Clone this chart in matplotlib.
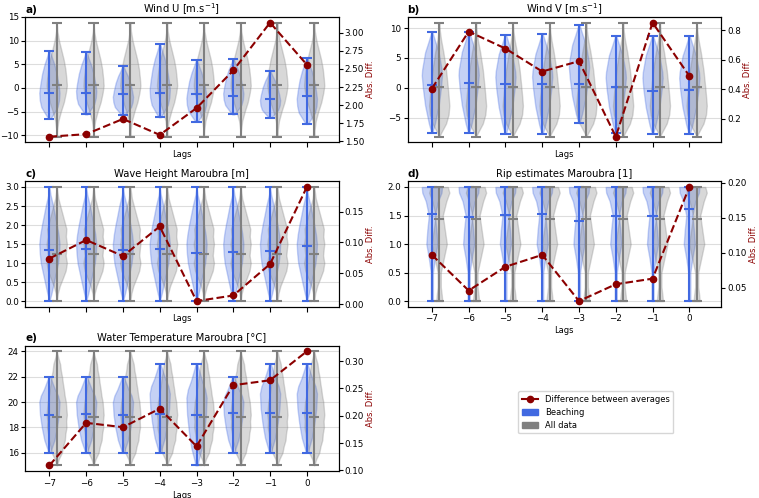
import numpy as np
import matplotlib.pyplot as plt
from matplotlib.lines import Line2D
from matplotlib.patches import Patch

plt.rcParams['font.size'] = 6
plt.rcParams['xtick.labelsize'] = 6.3
plt.rcParams['ytick.labelsize'] = 6.3

lags = [-7, -6, -5, -4, -3, -2, -1, 0]

# a) Wind U
u_beach_min = [-6.5, -5.6, -5.8, -6.2, -7.1, -5.6, -6.3, -7.6]
u_beach_max = [7.9, 7.5, 4.6, 9.3, 5.9, 6.1, 3.5, 6.4]
u_beach_mean = [-1.0, -1.0, -1.2, -1.0, -1.3, -1.8, -2.4, -1.8]
u_all = [-10.3, 13.8, 0.6]  # min, max, mean
u_diff = [1.565, 1.60, 1.81, 1.59, 1.96, 2.48, 3.14, 2.56]
# violin outlines: position inside [min, max] (0..1) and relative width
u_beach_t = [0, .07, .17, .27, .38, .5, .66, .8, .9, 1]
u_beach_d = [.1, .4, .8, .95, 1.0, .9, .72, .48, .25, .05]
u_all_y = [-10.3, -9, -7, -5, -3, -1, 0.5, 2, 4, 6, 8, 10, 12, 13.8]
u_all_d = [0, .03, .15, .4, .7, .9, 1, .95, .85, .68, .45, .22, .06, 0]

# b) Wind V
v_beach_min = [-7.5, -7.5, -7.7, -7.7, -5.9, -7.6, -7.7, -7.7]
v_beach_max = [9.3, 9.4, 8.9, 9.0, 10.5, 8.7, 8.7, 8.6]
v_beach_mean = [0.45, 0.85, 0.7, 0.55, 0.6, 0.15, -0.6, -0.35]
v_all = [-8.2, 10.9, 0.05]
v_diff = [0.405, 0.79, 0.675, 0.52, 0.59, 0.08, 0.85, 0.49]
v_beach_t = [0, .09, .27, .45, .57, .63, .8, .9, 1]
v_beach_d = [.05, .3, .67, .9, 1.0, .96, .67, .35, .05]
v_all_y = [-8.2, -7.5, -6, -4.5, -3, -1.5, 0, 3, 6, 8, 9.5, 10.9]
v_all_d = [0, .2, .67, .92, 1.0, .93, .85, .67, .4, .18, .06, 0]

# c) Wave height
h_beach_min = [0.0, 0.0, 0.0, 0.0, 0.0, 0.0, 0.0, 0.0]
h_beach_max = [3.0, 3.0, 3.0, 3.0, 3.0, 3.0, 3.0, 3.0]
h_beach_mean = [1.33, 1.36, 1.33, 1.38, 1.27, 1.28, 1.32, 1.44]
h_all = [0.0, 3.0, 1.25]
h_diff = [0.074, 0.104, 0.078, 0.126, 0.005, 0.014, 0.065, 0.190]
h_beach_t = [0, .067, .167, .25, .333, .417, .5, .583, .667, .75, .833, .933, 1]
h_beach_d = [0, .2, .45, .65, .85, .95, 1.0, .9, .74, .55, .37, .1, 0]
h_all_y = [0, .2, .4, .6, .8, 1.0, 1.2, 1.4, 1.5, 1.7, 1.9, 2.1, 2.4, 2.7, 3.0]
h_all_d = [0, .1, .3, .6, .88, 1.0, .88, .95, 1.0, .9, .95, .75, .45, .15, 0]

# d) Rip estimates
r_beach_min = [0.0, 0.0, 0.0, 0.0, 0.0, 0.0, 0.0, 0.0]
r_beach_max = [2.0, 2.0, 2.0, 2.0, 2.0, 2.0, 2.0, 2.0]
r_beach_mean = [1.52, 1.48, 1.51, 1.53, 1.41, 1.49, 1.50, 1.61]
r_all = [0.0, 2.0, 1.43]
r_diff = [0.097, 0.046, 0.080, 0.097, 0.031, 0.055, 0.063, 0.194]
r_beach_t = [0, .125, .25, .375, .5, .625, .75, .875, .95, 1]
r_beach_d = [.1, .1, .1, .3, .55, .45, .3, .6, .95, 1.0]
r_all_y = [0, .1, .25, .5, .75, 1.0, 1.25, 1.5, 1.75, 1.9, 2.0]
r_all_d = [.3, .25, .15, .15, .45, .75, .55, .35, .7, 1.0, .85]

# e) Water temperature
t_beach_min = [16, 16, 16, 16, 15, 16, 16, 16]
t_beach_max = [22, 22, 22, 23, 23, 22, 23, 23]
t_beach_mean = [18.95, 19.05, 19.0, 19.05, 19.0, 19.1, 19.1, 19.15]
t_all = [15, 24, 18.85]
t_diff = [0.109, 0.187, 0.179, 0.213, 0.144, 0.256, 0.265, 0.318]
t_beach_t = [0, .05, .167, .333, .5, .667, .75, .833, .92, 1]
t_beach_d = [.1, .2, .5, .75, .93, 1.0, .85, .55, .3, .08]
t_all_y = [15, 15.5, 16, 16.5, 17, 17.5, 18, 18.5, 19, 19.5, 20, 20.5, 21, 21.5, 22, 22.5, 23, 23.5, 24]
t_all_d = [0, .2, .5, .62, .8, .85, .96, .93, 1.0, .95, .9, .78, .7, .6, .52, .4, .33, .15, 0]

blue = 'royalblue'
grey = 'grey'
red = '#8B0000'


def color_violin(parts, c):
    for b in parts['bodies']:
        b.set_facecolor(c)
        b.set_edgecolor(c)
        b.set_alpha(0.3)
    for k in ['cmins', 'cmaxes', 'cbars', 'cmeans']:
        parts[k].set_color(c)


def panel(ax, letter, title, bmin, bmax, bmean, bt, bd, allv, ay, ad, diff):
    stats = []
    for lo, hi, m in zip(bmin, bmax, bmean):
        coords = lo + np.array(bt) * (hi - lo)
        stats.append(dict(coords=coords, vals=np.array(bd), mean=m, median=m,
                          min=lo, max=hi))
    p = ax.violin(stats, positions=lags, widths=0.55, showmeans=True)
    color_violin(p, blue)

    stats_all = [dict(coords=np.array(ay, float), vals=np.array(ad, float),
                      mean=allv[2], median=allv[2], min=allv[0], max=allv[1])
                 for _ in lags]
    p = ax.violin(stats_all, positions=[l + 0.2 for l in lags], widths=0.55, showmeans=True)
    color_violin(p, grey)

    ax.set_xticks(lags)
    ax.yaxis.grid(True, color='#dddddd')
    ax.set_axisbelow(True)
    ax.set_xlabel('Lags', labelpad=2)
    ax.tick_params(axis='x', pad=2)
    ax.tick_params(axis='y', pad=1.5, length=3)
    ax.set_title(title, fontsize=7.2, pad=3)
    ax.set_title(letter, loc='left', fontweight='bold', fontsize=7.5, pad=3)

    ax2 = ax.twinx()
    ax2.plot(lags, diff, '--o', color=red, lw=1.5, ms=4.5)
    ax2.set_ylabel('Abs. Diff.', color=red, labelpad=1.5)
    ax2.tick_params(pad=1.5, length=3)
    return ax2


fig, axs = plt.subplots(3, 2, figsize=(7.59, 4.98), dpi=100)
plt.subplots_adjust(left=0.033, right=0.95, bottom=0.054, top=0.966, wspace=0.22, hspace=0.31)

panel(axs[0, 0], 'a)', 'Wind U [m.s$^{-1}$]', u_beach_min, u_beach_max, u_beach_mean,
      u_beach_t, u_beach_d, u_all, u_all_y, u_all_d, u_diff)
panel(axs[0, 1], 'b)', 'Wind V [m.s$^{-1}$]', v_beach_min, v_beach_max, v_beach_mean,
      v_beach_t, v_beach_d, v_all, v_all_y, v_all_d, v_diff)
panel(axs[1, 0], 'c)', 'Wave Height Maroubra [m]', h_beach_min, h_beach_max, h_beach_mean,
      h_beach_t, h_beach_d, h_all, h_all_y, h_all_d, h_diff)
panel(axs[1, 1], 'd)', 'Rip estimates Maroubra [1]', r_beach_min, r_beach_max, r_beach_mean,
      r_beach_t, r_beach_d, r_all, r_all_y, r_all_d, r_diff)
panel(axs[2, 0], 'e)', 'Water Temperature Maroubra [°C]', t_beach_min, t_beach_max, t_beach_mean,
      t_beach_t, t_beach_d, t_all, t_all_y, t_all_d, t_diff)

for ax in [axs[0, 0], axs[0, 1], axs[1, 0]]:
    ax.tick_params(axis='x', labelbottom=False)

axs[2, 1].axis('off')
handles = [Line2D([], [], color=red, marker='o', ms=4.5, lw=1.5),
           Patch(color=blue), Patch(color=grey)]
fig.legend(handles, ['Difference between averages', 'Beaching', 'All data'],
           loc='center', bbox_to_anchor=(0.785, 0.172), fontsize=6)

fig.savefig('out.png', dpi=100)
